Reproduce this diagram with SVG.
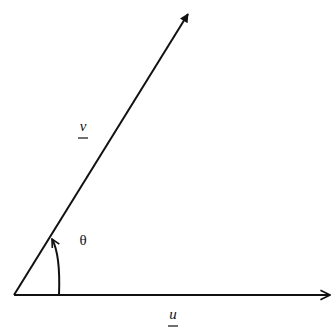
<svg xmlns="http://www.w3.org/2000/svg" width="332" height="329" viewBox="0 0 332 329">
<defs>
<style>
.ln{stroke:#111;stroke-width:2;fill:none}
.lbl{font-family:"Liberation Serif",serif;font-size:15px;fill:#111}
</style>
<marker id="fill" viewBox="0 0 10 10" refX="9" refY="5" markerWidth="5" markerHeight="4.5" orient="auto" markerUnits="strokeWidth"><path d="M0,0L10,5L0,10z" fill="#111"/></marker>
<marker id="open" viewBox="0 0 10 10" refX="9" refY="5" markerWidth="6" markerHeight="7" orient="auto" markerUnits="strokeWidth"><path d="M1,1L9,5L1,9" fill="none" stroke="#111" stroke-width="1.4"/></marker>
<marker id="openSmall" viewBox="0 0 10 10" refX="9" refY="5" markerWidth="5" markerHeight="5" orient="auto" markerUnits="strokeWidth"><path d="M1,1L9,5L1,9" fill="none" stroke="#111" stroke-width="1.6"/></marker>
</defs>
<rect width="332" height="329" fill="#fff"/>
<g id="connectors">
<line id="vec-v" class="ln" x1="14" y1="295" x2="188" y2="14" marker-end="url(#fill)"/>
<line id="vec-u" class="ln" x1="14" y1="295" x2="330" y2="295" marker-end="url(#open)"/>
<path id="angle" class="ln" d="M59,295 C60,270 58,250 52,239" stroke-width="1.5" marker-end="url(#openSmall)"/>
</g>
<g id="label-v"><text class="lbl" x="83" y="131" text-anchor="middle" font-style="italic">v</text><line x1="78" y1="138" x2="88" y2="138" stroke="#111" stroke-width="1.2"/></g>
<g id="label-u"><text class="lbl" x="173" y="319" text-anchor="middle" font-style="italic">u</text><line x1="168" y1="326" x2="178" y2="326" stroke="#111" stroke-width="1.2"/></g>
<g id="label-theta"><text class="lbl" x="83" y="245" text-anchor="middle" font-size="17">θ</text></g>
</svg>
